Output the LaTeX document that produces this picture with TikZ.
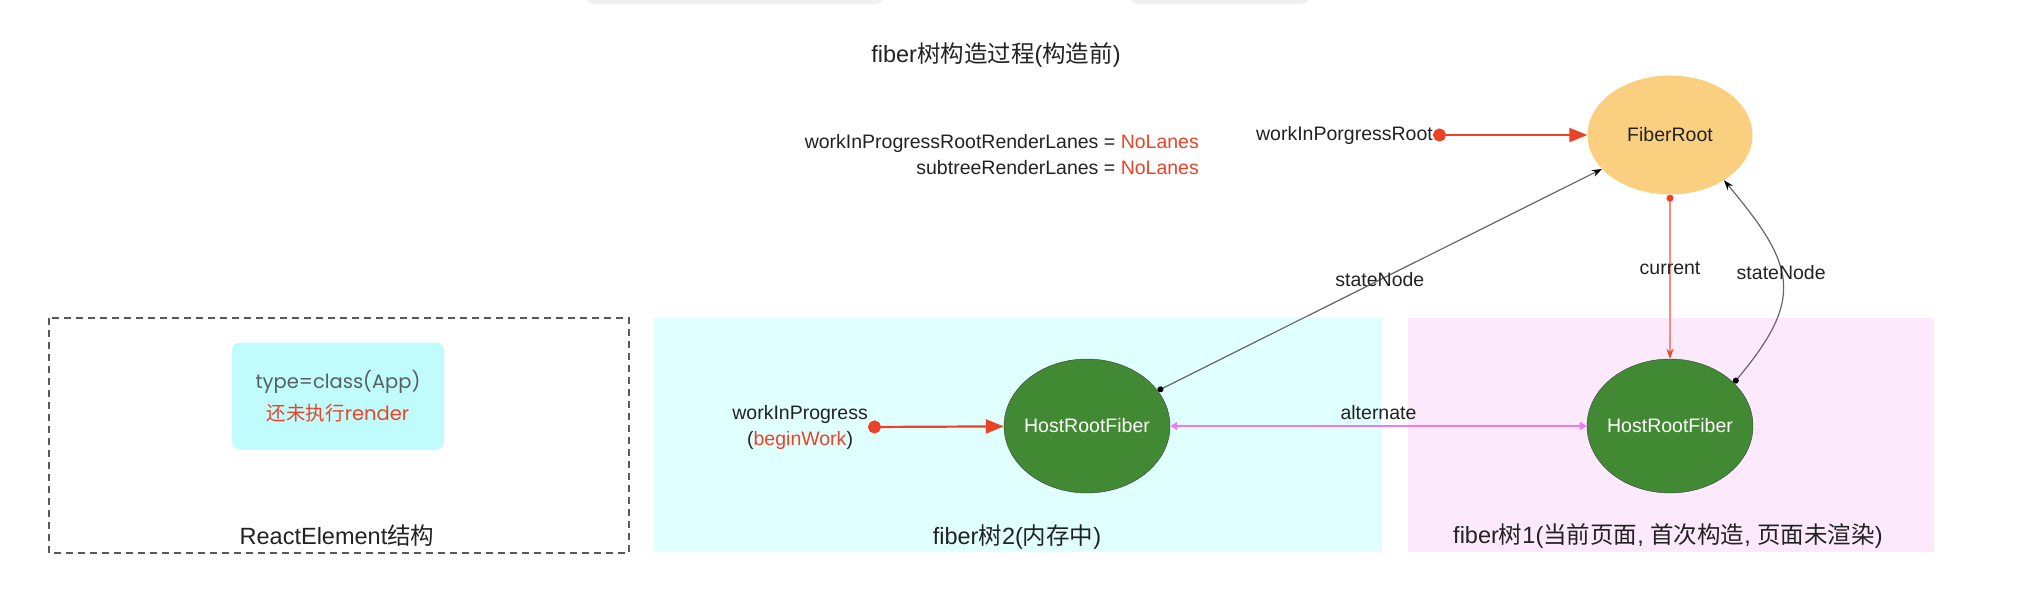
\documentclass[tikz,border=0pt]{standalone}
\usepackage{fontspec}
\setmainfont{Liberation Sans}
\newfontfamily\cjk{Noto Sans CJK SC}
\newfontfamily\rnd{Poppins}
\usetikzlibrary{arrows.meta,shapes.geometric}
\definecolor{txt}{RGB}{34,34,34}
\definecolor{fred}{RGB}{234,67,40}
\definecolor{lred}{RGB}{246,140,122}
\definecolor{fgreen}{RGB}{65,137,50}
\definecolor{forange}{RGB}{250,208,128}
\definecolor{fpink}{RGB}{236,122,240}
\definecolor{cyanbg}{RGB}{224,255,255}
\definecolor{pinkbg}{RGB}{252,234,252}
\definecolor{cyanbox}{RGB}{192,252,252}
\definecolor{tabgray}{RGB}{238,240,242}
\definecolor{elemgray}{RGB}{85,95,100}

\begin{document}
\begin{tikzpicture}[x=1pt,y=1pt,
  lbl/.style={font=\fontsize{19.5}{26}\selectfont,text=txt,inner sep=0pt},
  big/.style={font=\fontsize{23.5}{28}\selectfont,text=txt,inner sep=0pt},
  fiber/.style={ellipse,draw=black!75,fill=fgreen,text=white,minimum width=166pt,minimum height=134pt,inner sep=0pt,font=\fontsize{19.5}{24}\selectfont},
  ptr/.style={line width=2.2pt,draw=fred,{Circle[length=13pt]}-{Triangle[length=18pt,width=14pt]}},
  ref/.style={line width=1.2pt,draw=black!60,{Circle[length=6pt,color=black]}-{Stealth[length=10pt,width=7pt,color=black]}},
  cur/.style={line width=1.3pt,draw=lred,{Circle[length=7pt,color=fred]}-{Stealth[length=10pt,width=7pt,color=fred]}},
  alt/.style={line width=2pt,draw=fpink,{Triangle[length=7pt,width=8pt]}-{Triangle[length=7pt,width=8pt]}}]
\useasboundingbox (0,0) rectangle (2030,-598);

% tabs and panels
\fill[tabgray,rounded corners=6pt] (587,12) rectangle (882,-4);
\fill[tabgray,rounded corners=6pt] (1131,12) rectangle (1308,-4);
\draw[draw=black!65,line width=1.3pt,dash pattern=on 7pt off 5pt] (49,-318) rectangle (629,-553);
\fill[cyanbg] (654,-318) rectangle (1382,-552);
\fill[pinkbg] (1408,-318) rectangle (1934,-552);

\node[big] (title) at (996,-55) {fiber{\cjk 树构造过程}({\cjk 构造前})};
\node[lbl,align=right,anchor=east] (lanes) at (1199,-155) {workInProgressRootRenderLanes = \textcolor{fred}{NoLanes}\\subtreeRenderLanes = \textcolor{fred}{NoLanes}};
\node[lbl,anchor=east] (wipr) at (1433,-135) {workInPorgressRoot};

% fiber nodes
\node[ellipse,fill=forange,minimum width=165pt,minimum height=119pt,inner sep=0pt,font=\fontsize{19.5}{24}\selectfont,text=txt] (root) at (1670,-135) {FiberRoot};
\node[fiber] (hrf2) at (1087,-426) {\makebox[0pt]{HostRootFiber}};
\node[fiber] (hrf1) at (1670,-426) {\makebox[0pt]{HostRootFiber}};
\node[lbl,align=center,anchor=east] (wip) at (868,-427) {workInProgress\\(\textcolor{fred}{beginWork})};

\node[fill=cyanbox,rounded corners=8pt,minimum width=212pt,minimum height=107pt,align=center,font=\rnd\fontsize{19.5}{32}\selectfont] (elem) at (338,-396) {\textcolor{elemgray}{type=class(App)}\\\textcolor{fred}{{\cjk 还未执行}render}};

\node[big] (elemlbl) at (337,-536) {ReactElement{\cjk 结构}};
\node[big] (tree2) at (1017,-537) {fiber{\cjk 树}2({\cjk 内存中})};
\node[big] (tree1) at (1668,-536) {fiber{\cjk 树}1({\cjk 当前页面}, {\cjk 首次构造}, {\cjk 页面未渲染})};

% connectors
\draw[ptr] (wipr.east) -- (root);
\draw[ptr] (wip.east) -- (hrf2);
\draw[ref] (hrf2) -- node[lbl]{stateNode} (root);
\draw[cur] (root) -- node[lbl,pos=.45]{current} (hrf1);
\draw[ref] (hrf1.34) to[out=50,in=-50,looseness=1.4] node[lbl,pos=.55]{stateNode} (root.-40);
\draw[alt] (hrf2) -- node[lbl,above=5pt]{alternate} (hrf1);
\end{tikzpicture}
\end{document}
